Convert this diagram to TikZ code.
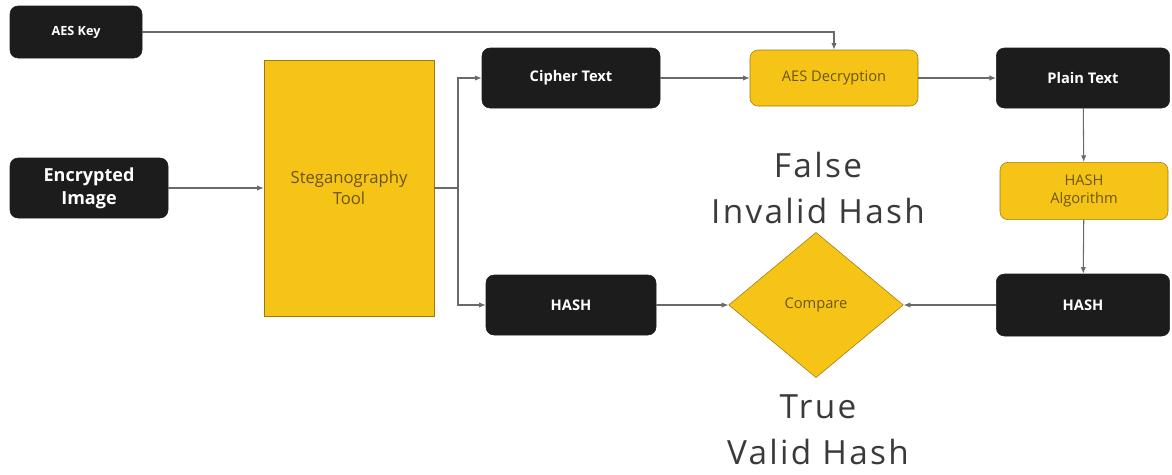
\documentclass[tikz,border=0pt]{standalone}
\usepackage{fontspec}
\setmainfont{Open Sans}
\newfontfamily\widefont[LetterSpace=7]{Open Sans}
\usetikzlibrary{arrows.meta,shapes.geometric}

\definecolor{boxblack}{HTML}{1C1C1C}
\definecolor{boxyellow}{HTML}{F6C416}
\definecolor{boxedge}{HTML}{9A7A10}
\definecolor{yellowtext}{HTML}{6A5518}
\definecolor{linegray}{HTML}{6A6A6A}
\definecolor{labelgray}{HTML}{3A3A3A}

\tikzset{
	darkbox/.style = {fill=boxblack, draw=boxblack, rounded corners=6pt, text=white, font=\bfseries\fontsize{11}{13}\selectfont, align=center, inner sep=2pt},
	yellowbox/.style = {fill=boxyellow, draw=boxedge, rounded corners=6pt, text=yellowtext, font=\fontsize{11}{13.5}\selectfont, align=center, inner sep=2pt},
	arr/.style = {draw=linegray, line width=0.8pt, -{Latex[length=5pt,width=4pt]}},
	bigtext/.style = {text=labelgray, font=\widefont\fontsize{25}{34.5}\selectfont, align=center}
}

\begin{document}
\begin{tikzpicture}[x=0.75pt, y=-0.75pt]
	\useasboundingbox (0,0) rectangle (1172,475);
	\node[darkbox, minimum width=99pt, minimum height=39pt, font=\bfseries\fontsize{9.5}{11}\selectfont] (key) at (76,32) {AES Key};
	\node[darkbox, minimum width=118.5pt, minimum height=45pt, font=\bfseries\fontsize{13.5}{17}\selectfont] (image) at (89,188) {Encrypted\\Image};
	\node[yellowbox, rounded corners=0pt, minimum width=127.5pt, minimum height=192pt, font=\fontsize{12.5}{16}\selectfont] (steg) at (349,188) {Steganography\\Tool};
	\node[darkbox, minimum width=133.5pt, minimum height=45pt] (cipher) at (571,78) {Cipher Text};
	\node[yellowbox, minimum width=126pt, minimum height=42pt] (dec) at (834,78) {AES Decryption};
	\node[darkbox, minimum width=130pt, minimum height=45pt] (plain) at (1083,78) {Plain Text};
	\node[yellowbox, minimum width=126pt, minimum height=43pt] (algo) at (1084,191) {HASH\\Algorithm};
	\node[darkbox, minimum width=130pt, minimum height=46.5pt] (hashr) at (1083,305) {HASH};
	\node[darkbox, minimum width=127.5pt, minimum height=45pt] (hashl) at (571,305) {HASH};
	\node[yellowbox, diamond, rounded corners=0pt, minimum width=131pt, minimum height=109pt, inner sep=0pt] (cmp) at (816,305) {Compare};
	\node[bigtext] (false) at (818,188) {False\\Invalid Hash};
	\node[bigtext] (true) at (818,430) {True\\Valid Hash};
	\coordinate (split) at (458,188);
	\draw[arr] (key) -| (dec);
	\draw[arr] (image) -- (steg);
	\draw[draw=linegray, line width=0.8pt] (steg.east) -- (split);
	\draw[arr] (split) |- (cipher);
	\draw[arr] (split) |- (hashl);
	\draw[arr] (cipher) -- (dec);
	\draw[arr] (dec) -- (plain);
	\draw[arr] (plain) -- (algo);
	\draw[arr] (algo) -- (hashr);
	\draw[arr] (hashr) -- (cmp);
	\draw[arr] (hashl) -- (cmp);
\end{tikzpicture}
\end{document}
